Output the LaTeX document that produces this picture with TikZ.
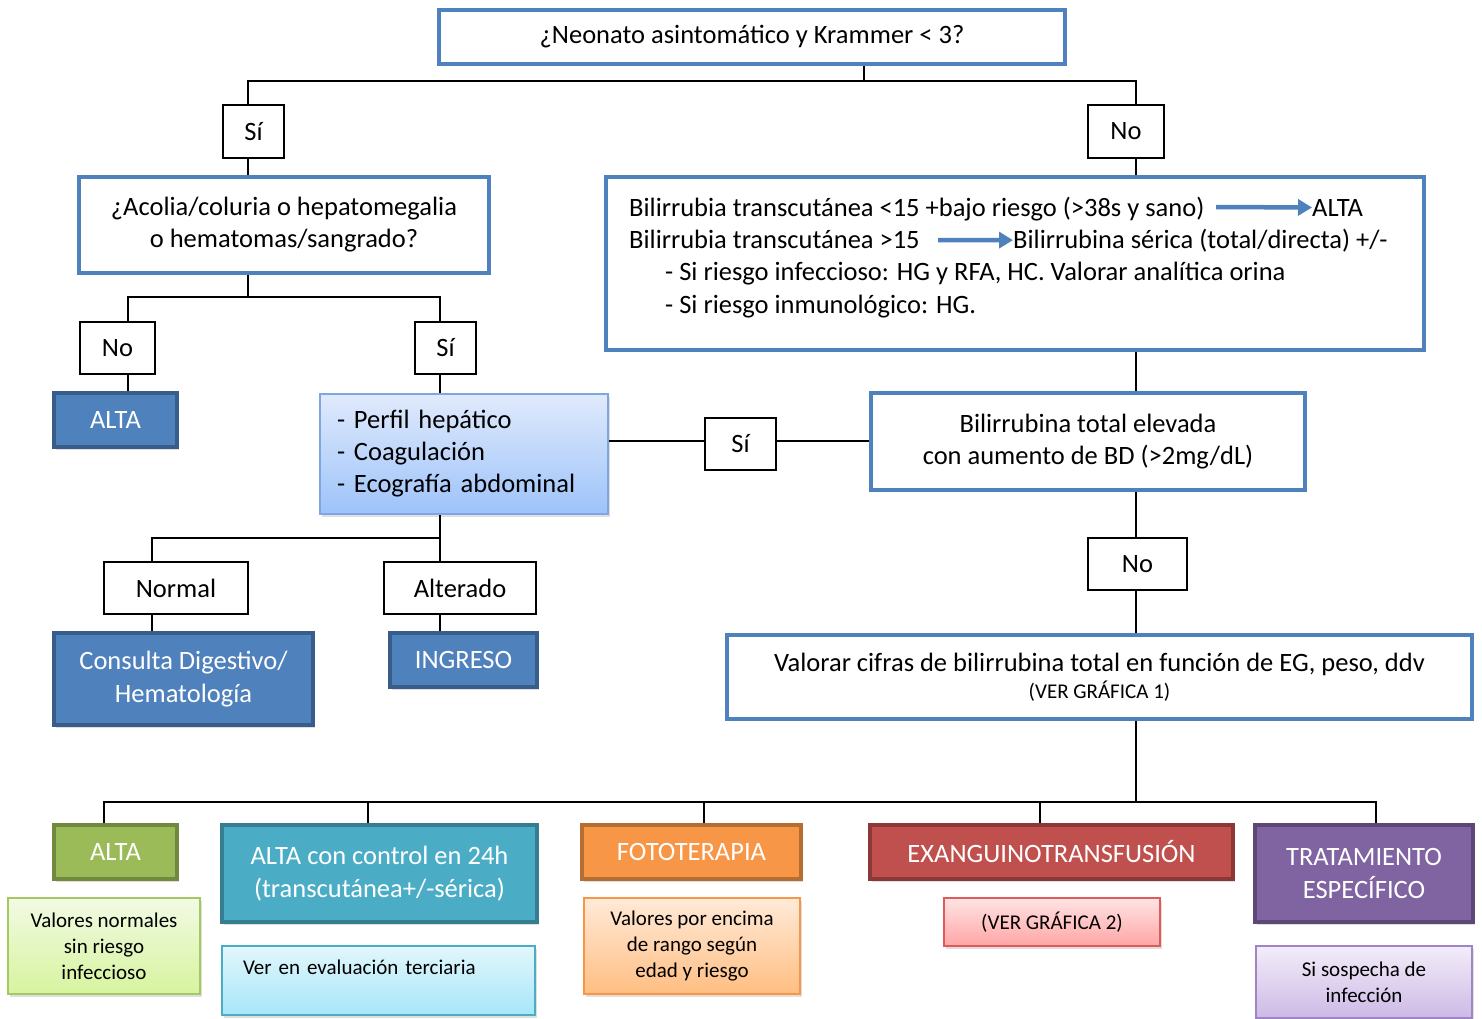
\documentclass[tikz,border=0pt]{standalone}
\usepackage{fontspec}
\setmainfont{Carlito}
\usetikzlibrary{arrows.meta,shadows}

\definecolor{qblue}{RGB}{79,129,189}
\definecolor{qblueD}{RGB}{56,93,138}
\definecolor{hgreen}{RGB}{155,187,89}
\definecolor{hgreenD}{RGB}{113,137,63}
\definecolor{hteal}{RGB}{75,172,198}
\definecolor{htealD}{RGB}{53,125,145}
\definecolor{horange}{RGB}{247,150,70}
\definecolor{horangeD}{RGB}{182,109,49}
\definecolor{hred}{RGB}{192,80,77}
\definecolor{hredD}{RGB}{140,56,54}
\definecolor{hpurple}{RGB}{128,100,162}
\definecolor{hpurpleD}{RGB}{92,71,118}
% light fills
\definecolor{perfT}{RGB}{224,234,252}
\definecolor{perfB}{RGB}{157,195,250}
\definecolor{perfD}{RGB}{126,166,224}
\definecolor{sgreenT}{RGB}{242,250,228}
\definecolor{sgreenB}{RGB}{214,244,158}
\definecolor{sgreenD}{RGB}{165,200,100}
\definecolor{stealT}{RGB}{226,247,252}
\definecolor{stealB}{RGB}{166,230,248}
\definecolor{sorangeT}{RGB}{255,234,216}
\definecolor{sorangeB}{RGB}{255,190,130}
\definecolor{sredT}{RGB}{255,228,228}
\definecolor{sredB}{RGB}{255,165,165}
\definecolor{sredD}{RGB}{224,90,90}
\definecolor{spurpT}{RGB}{243,237,249}
\definecolor{spurpB}{RGB}{205,185,230}
\definecolor{spurpD}{RGB}{160,132,196}

\newcommand\txtmain{\fontsize{26.5}{32}\selectfont}
\newcommand\txthead{\fontsize{26.5}{33}\selectfont}
\newcommand\txtsmall{\fontsize{21}{26}\selectfont}

\begin{document}
\begin{tikzpicture}[x=1pt,y=-1pt,
  sz/.style 2 args={minimum width=#1pt, minimum height=#2pt, inner sep=0pt},
  conn/.style={line width=1.5pt},
  sh/.style={drop shadow={shadow xshift=2pt, shadow yshift=-3pt, opacity=0.25}},
  qbox/.style={draw=qblue, line width=4pt, fill=white, align=center, font=\txtmain},
  lblbox/.style={draw=black, line width=2pt, fill=white, font=\txtmain},
  hdr/.style 2 args={fill=#1, draw=#2, line width=4pt, text=white, align=center, font=\txthead, sh},
  subbox/.style n args={3}{top color=#1, bottom color=#2, draw=#3, line width=1.5pt, align=center, font=\txtsmall, sh},
  txt/.style={anchor=base west, inner sep=0pt, font=\txtmain},
  barrow/.style={draw=qblue, line width=4.5pt, -{Triangle[length=14pt,width=16pt]}}]
\useasboundingbox (0,0) rectangle (1482,1019);

% first question
\node[qbox, sz={626}{54}] (q0) at (752,37) {¿Neonato asintomático y Krammer < 3?};
\node[lblbox, sz={61}{53}] (si1) at (253.5,131.5) {Sí};
\node[lblbox, sz={76}{53}] (no1) at (1126,131.5) {No};

% left branch
\node[qbox, sz={410}{96}] (acol) at (284,225) {¿Acolia/coluria o hepatomegalia\\o hematomas/sangrado?};
\node[lblbox, sz={75}{52}] (no2) at (117.5,348) {No};
\node[lblbox, sz={61}{52}] (si2) at (445.5,348) {Sí};
\node[hdr={qblue}{qblueD}, sz={123}{54}] (alta1) at (115.5,420) {ALTA};
\node[subbox={perfT}{perfB}{perfD}, sz={288}{120},
      align=left, text width=254pt, font=\txtmain] (perf) at (464,454)
  {- Perfil hepático\\- Coagulación\\- Ecografía abdominal};
\node[lblbox, sz={144}{52}] (norm) at (176,588) {Normal};
\node[lblbox, sz={152}{52}] (alter) at (460,588) {Alterado};
\node[hdr={qblue}{qblueD}, sz={259}{92}] (cons) at (183.5,679) {Consulta Digestivo/\\Hematología};
\node[hdr={qblue}{qblueD}, sz={147}{54}] (ingr) at (463.5,660) {INGRESO};

% right branch
\node[qbox, sz={818}{173}] (bili) at (1015,263.5) {};
\node[txt] (l1) at (629,216) {Bilirrubia transcutánea <15 +bajo riesgo (>38s y sano)};
\node[txt] (a1) at (1312,216) {ALTA};
\node[txt] (l2) at (629,248) {Bilirrubia transcutánea >15};
\node[txt] (a2) at (1013,248) {Bilirrubina sérica (total/directa) +/-};
\node[txt] (l3) at (665,280) {- Si riesgo infeccioso: HG y RFA, HC. Valorar analítica orina};
\node[txt] (l4) at (665,313) {- Si riesgo inmunológico: HG.};
\draw[barrow] (1216,207) -- (a1.west);
\draw[barrow] (938,240) -- (a2.west);

\node[lblbox, sz={71}{52}] (si3) at (740.5,444) {Sí};
\node[qbox, sz={434}{97}] (bt) at (1088,441.5) {Bilirrubina total elevada\\con aumento de BD (>2mg/dL)};
\node[lblbox, sz={99}{52}] (no4) at (1137.5,564) {No};
\node[qbox, sz={745}{84}] (valo) at (1099.5,677)
  {Valorar cifras de bilirrubina total en función de EG, peso, ddv\\[-5pt]{\txtsmall (VER GRÁFICA 1)}};

% results
\node[hdr={hgreen}{hgreenD}, sz={123}{54}] (h1) at (115.5,852) {ALTA};
\node[hdr={hteal}{htealD}, sz={315}{97}] (h2) at (379.5,873.5) {ALTA con control en 24h\\(transcutánea+/-sérica)};
\node[hdr={horange}{horangeD}, sz={219}{54}] (h3) at (691.5,852) {FOTOTERAPIA};
\node[hdr={hred}{hredD}, sz={363}{54}] (h4) at (1051.5,852) {EXANGUINOTRANSFUSIÓN};
\node[hdr={hpurple}{hpurpleD}, sz={218}{97}] (h5) at (1364,873.5) {TRATAMIENTO\\ESPECÍFICO};

\node[subbox={sgreenT}{sgreenB}{sgreenD}, sz={192}{96}] (s1) at (104,946)
  {Valores normales\\sin riesgo\\infeccioso};
\node[subbox={stealT}{stealB}{hteal}, sz={313}{69}, align=left, text width=271pt] (s2) at (378.5,980.5)
  {Ver en evaluación terciaria\\ \mbox{}};
\node[subbox={sorangeT}{sorangeB}{horange}, sz={216}{96}] (s3) at (692,946)
  {Valores por encima\\de rango según\\edad y riesgo};
\node[subbox={sredT}{sredB}{sredD}, sz={216}{48}] (s4) at (1052,922) {(VER GRÁFICA 2)};
\node[subbox={spurpT}{spurpB}{spurpD}, sz={216}{72}] (s5) at (1364,982)
  {Si sospecha de\\infección};

% connectors
\coordinate (j0) at (864,81);
\coordinate (jL) at (248,81);
\coordinate (jR) at (1136,81);
\draw[conn] (q0.south -| j0) -- (j0);
\draw[conn] (si1.north -| jL) -- (jL) -- (jR) -- (no1.north -| jR);
\draw[conn] (si1.south -| jL) -- (acol.north -| jL);
\draw[conn] (no1.south -| jR) -- (bili.north -| jR);

\coordinate (j1) at (248,297);
\coordinate (j1L) at (128,297);
\coordinate (j1R) at (440,297);
\draw[conn] (acol.south -| j1) -- (j1);
\draw[conn] (no2.north -| j1L) -- (j1L) -- (j1R) -- (si2.north -| j1R);
\draw[conn] (no2.south -| j1L) -- (alta1.north -| j1L);
\draw[conn] (si2.south -| j1R) -- (perf.north -| j1R);

\coordinate (hs) at (740,441);
\draw[conn] (perf.east |- hs) -- (si3.west |- hs);
\draw[conn] (si3.east |- hs) -- (bt.west |- hs);
\draw[conn] (bili.south -| jR) -- (bt.north -| jR);
\draw[conn] (bt.south -| jR) -- (no4.north -| jR);
\draw[conn] (no4.south -| jR) -- (valo.north -| jR);

\coordinate (j2) at (440,538);
\coordinate (j2L) at (152,538);
\draw[conn] (perf.south -| j2) -- (j2) -- (j2L) -- (norm.north -| j2L);
\draw[conn] (j2) -- (alter.north -| j2);
\draw[conn] (norm.south -| j2L) -- (cons.north -| j2L);
\draw[conn] (alter.south -| j2) -- (ingr.north -| j2);

\coordinate (j3) at (1136,802);
\draw[conn] (valo.south -| j3) -- (j3);
\draw[conn] (h1.north -| 104,0) -- (104,802) -- (1376,802) -- (h5.north -| 1376,0);
\foreach \xd/\hn in {368/h2, 704/h3, 1040/h4}
  \draw[conn] (\xd,802) -- (\hn.north -| \xd,0);
\end{tikzpicture}
\end{document}
